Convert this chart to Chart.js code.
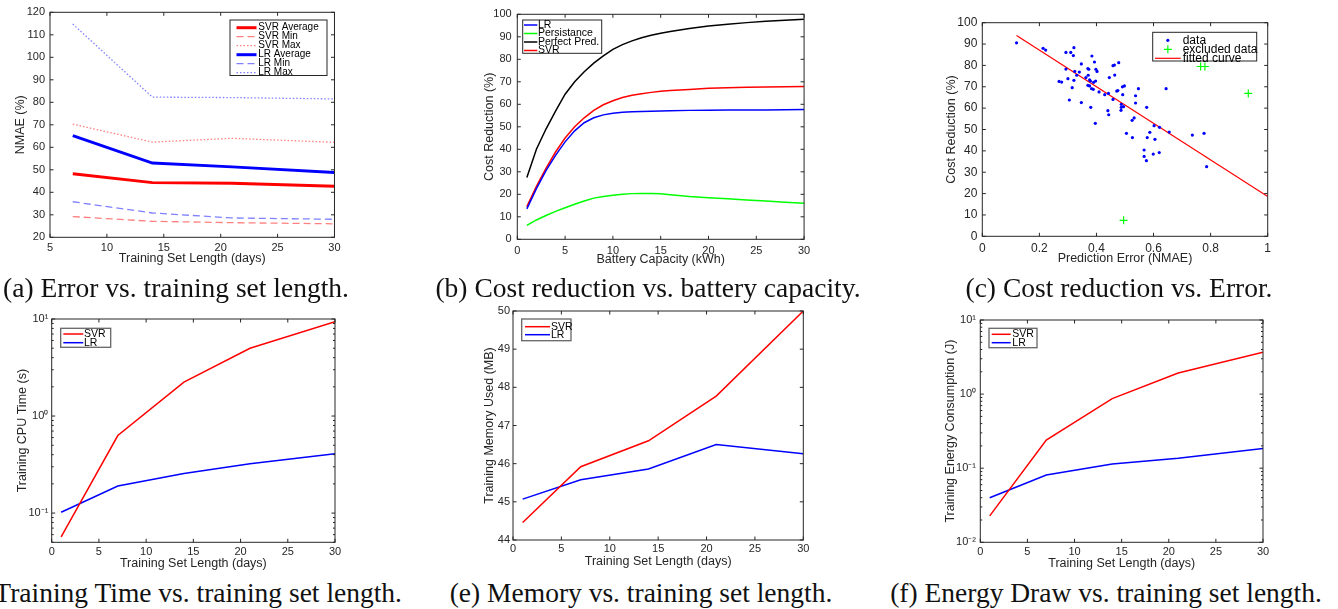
<!DOCTYPE html>
<html>
<head>
<meta charset="utf-8">
<script src="https://cdn.jsdelivr.net/npm/chart.js@4.4.1/dist/chart.umd.min.js"></script>
<style>
  body { margin: 0; background: #fff; width: 1338px; height: 609px; overflow: hidden; position: relative; }
  canvas { position: absolute; }
  .cap { position: absolute; width: 600px; text-align: center; white-space: nowrap;
         font-family: "Liberation Serif", "Times New Roman", serif; font-size: 27.5px; line-height: 30px; color: #111; }
</style>
</head>
<body>
<canvas id="ca" width="345" height="272" style="left:0px;top:0px"></canvas>
<canvas id="cb" width="345" height="272" style="left:470px;top:0px"></canvas>
<canvas id="cc" width="350" height="272" style="left:930px;top:0px"></canvas>
<canvas id="cd" width="345" height="272" style="left:0px;top:300px"></canvas>
<canvas id="ce" width="375" height="272" style="left:440px;top:300px"></canvas>
<canvas id="cf" width="350" height="272" style="left:930px;top:300px"></canvas>

<div class="cap" style="left:-124px;top:273px">(a) Error vs. training set length.</div>
<div class="cap" style="left:348px;top:273px">(b) Cost reduction vs. battery capacity.</div>
<div class="cap" style="left:819px;top:273px">(c) Cost reduction vs. Error.</div>
<div class="cap" style="left:-198px;top:578px;text-align:right">(d) Training Time vs. training set length.</div>
<div class="cap" style="left:341px;top:578px">(e) Memory vs. training set length.</div>
<div class="cap" style="left:806px;top:578px">(f) Energy Draw vs. training set length.</div>

<script>
// (a) error vs training set length
const daysA = [7, 14, 21, 30];
const svrAvgA = [48.2, 44.3, 44.0, 42.7];
const svrMinA = [29.2, 27.1, 26.5, 26.0];
const svrMaxA = [70.3, 62.3, 64.0, 62.2];
const lrAvgA = [65.2, 53.0, 51.3, 48.8];
const lrMinA = [35.8, 30.8, 28.6, 28.0];
const lrMaxA = [114.8, 82.3, 82.1, 81.5];

// (b) cost reduction vs battery capacity
const battery = [1, 2, 3, 4, 5, 6, 7, 8, 9, 10, 11, 12, 13, 14, 15, 16, 18, 20, 22, 24, 26, 28, 30];
const lrCost = [13.5, 22.5, 30.5, 37.3, 43.3, 48.2, 51.8, 54.0, 55.3, 56.0, 56.5, 56.7, 56.8, 56.9, 57.0, 57.1, 57.3, 57.4, 57.5, 57.5, 57.5, 57.6, 57.7];
const persCost = [6.2, 8.6, 10.6, 12.4, 14.0, 15.6, 17.0, 18.3, 19.0, 19.6, 20.0, 20.3, 20.4, 20.4, 20.2, 19.8, 19.0, 18.5, 18.0, 17.5, 17.0, 16.5, 16.0];
const perfCost = [27.5, 40.0, 49.0, 57.0, 64.5, 70.0, 74.5, 78.3, 81.5, 84.4, 86.5, 88.2, 89.6, 90.7, 91.6, 92.4, 93.7, 94.8, 95.6, 96.3, 96.9, 97.4, 97.8];
const svrCost = [14.5, 23.5, 31.5, 38.8, 45.0, 50.0, 54.0, 57.3, 59.8, 61.6, 63.0, 64.0, 64.7, 65.3, 65.8, 66.1, 66.6, 67.1, 67.4, 67.6, 67.7, 67.8, 67.9];

// (c) cost reduction vs prediction error
const errX = [0.120, 0.213, 0.222, 0.293, 0.310, 0.321, 0.319, 0.347, 0.293, 0.324, 0.340, 0.331, 0.370, 0.373, 0.384, 0.393,
  0.398, 0.402, 0.300, 0.269, 0.278, 0.321, 0.315, 0.305, 0.347, 0.363, 0.371, 0.376, 0.379, 0.390, 0.397, 0.370, 0.376,
  0.383, 0.389, 0.380, 0.396, 0.409, 0.429, 0.442, 0.445, 0.458, 0.463, 0.478, 0.464, 0.471, 0.475, 0.458, 0.440, 0.443,
  0.492, 0.491, 0.498, 0.487, 0.487, 0.495, 0.486, 0.505, 0.525, 0.532, 0.537, 0.547, 0.537, 0.526, 0.576, 0.567, 0.567,
  0.575, 0.578, 0.587, 0.602, 0.605, 0.599, 0.620, 0.621, 0.655, 0.644, 0.736, 0.777, 0.786];
const costY = [90.6, 88.0, 87.2, 86.1, 86.1, 88.3, 84.6, 80.7, 78.3, 77.2, 76.9, 75.4, 78.5, 78.2, 84.4, 81.6,
  78.2, 77.2, 73.8, 72.5, 72.2, 73.0, 69.6, 63.8, 62.6, 74.3, 75.4, 73.2, 72.7, 72.1, 72.7, 70.7, 70.4,
  69.1, 68.8, 60.4, 52.9, 67.6, 66.3, 66.9, 74.3, 79.9, 80.2, 81.3, 75.5, 68.0, 68.2, 64.1, 58.8, 56.9,
  66.3, 70.0, 70.4, 61.8, 60.4, 60.7, 59.0, 48.2, 54.3, 55.4, 65.8, 69.1, 62.4, 46.2, 60.4, 40.4, 37.4,
  35.4, 46.2, 48.7, 51.8, 45.4, 38.5, 39.2, 51.0, 48.8, 69.1, 47.4, 48.2, 32.6];
const exclX = [0.495, 0.765, 0.780, 0.932];
const exclY = [7.5, 79.5, 79.5, 66.9];
const fitX = [0.12, 1.0];
const fitY = [94.0, 18.6];

// (d)-(f) training cost vs training set length
const days = [1, 7, 14, 21, 30];
const svrTime = [0.057, 0.63, 2.24, 5.0, 9.4];
const lrTime = [0.102, 0.19, 0.256, 0.323, 0.41];
const svrMem = [44.46, 45.92, 46.6, 47.77, 50.0];
const lrMem = [45.07, 45.58, 45.86, 46.5, 46.26];
const svrEnergy = [0.0227, 0.24, 0.87, 1.93, 3.66];
const lrEnergy = [0.040, 0.081, 0.114, 0.136, 0.184];

const INK = '#262626';
const FONT = '"Liberation Sans", Arial, Helvetica, sans-serif';
Chart.defaults.font.family = FONT;
Chart.defaults.color = INK;
Chart.defaults.animation = false;

function pts(xs, ys) { return xs.map((x, i) => ({ x: x, y: ys[i] })); }

const SUP = { '-': '\u207B', '0': '\u2070', '1': '\u00B9', '2': '\u00B2', '3': '\u00B3' };
function powLabel(v) {
  const e = Math.round(Math.log10(v));
  return '10' + String(e).split('').map(c => SUP[c]).join('');
}

// box, inward ticks and an in-axes legend, the way MATLAB draws them
const matlabAxes = {
  id: 'matlabAxes',
  afterDraw(chart, args, o) {
    const { ctx, chartArea: a } = chart;
    const x = chart.scales.x, y = chart.scales.y;
    ctx.save();
    ctx.strokeStyle = INK;
    ctx.lineWidth = 1;
    const tl = 3.5;
    ctx.beginPath();
    x.ticks.forEach(t => {
      const p = x.getPixelForValue(t.value);
      ctx.moveTo(p, a.bottom); ctx.lineTo(p, a.bottom - tl);
      ctx.moveTo(p, a.top); ctx.lineTo(p, a.top + tl);
    });
    y.ticks.forEach(t => {
      const p = y.getPixelForValue(t.value);
      ctx.moveTo(a.left, p); ctx.lineTo(a.left + tl, p);
      ctx.moveTo(a.right, p); ctx.lineTo(a.right - tl, p);
    });
    if (y.type === 'logarithmic') {
      for (let k = Math.floor(Math.log10(y.min)); k < Math.log10(y.max); k++) {
        for (let m = 2; m < 10; m++) {
          const v = m * Math.pow(10, k);
          if (v < y.min || v > y.max) continue;
          const p = y.getPixelForValue(v);
          ctx.moveTo(a.left, p); ctx.lineTo(a.left + 2, p);
          ctx.moveTo(a.right, p); ctx.lineTo(a.right - 2, p);
        }
      }
    }
    ctx.stroke();
    ctx.strokeRect(a.left, a.top, a.right - a.left, a.bottom - a.top);

    const L = o.legend;
    if (L) {
      ctx.fillStyle = '#fff';
      ctx.fillRect(L.x, L.y, L.w, L.h);
      ctx.lineWidth = L.bw || 1;
      ctx.strokeStyle = L.border || INK;
      ctx.strokeRect(L.x, L.y, L.w, L.h);
      ctx.font = L.size + 'px ' + FONT;
      ctx.textBaseline = 'middle';
      chart.data.datasets.forEach((ds, i) => {
        const cy = L.row0 + i * L.dy;
        ctx.strokeStyle = ds.borderColor;
        ctx.fillStyle = ds.backgroundColor || ds.borderColor;
        if (ds.showLine === false) {
          const mx = (L.l0 + L.l1) / 2;
          if (ds.pointStyle === 'cross') {
            const r = ds.pointRadius;
            ctx.lineWidth = ds.borderWidth || 1;
            ctx.setLineDash([]);
            ctx.beginPath();
            ctx.moveTo(mx - r, cy); ctx.lineTo(mx + r, cy);
            ctx.moveTo(mx, cy - r); ctx.lineTo(mx, cy + r);
            ctx.stroke();
          } else {
            ctx.beginPath();
            ctx.arc(mx, cy, ds.pointRadius, 0, Math.PI * 2);
            ctx.fill();
          }
        } else {
          ctx.lineWidth = ds.borderWidth || 1.5;
          ctx.setLineDash(ds.borderDash || []);
          ctx.beginPath();
          ctx.moveTo(L.l0, cy); ctx.lineTo(L.l1, cy);
          ctx.stroke();
          ctx.setLineDash([]);
        }
        ctx.fillStyle = '#000';
        ctx.fillText(ds.label, L.tx, cy);
      });
    }
    ctx.restore();
  }
};

// g: canvas box and plot box in page pixels; the chart area is pinned to the plot box
function makeChart(id, g, type, datasets, xs, ys, legend) {
  const tick = g.tick || 11, tsz = g.tsz || 12.5;
  const lhT = tick * 1.2, lhS = tsz * 1.2;
  const [pl, pt, pr, pb] = g.plot;
  const lg = Object.assign({}, legend, {
    x: legend.x - g.left, y: legend.y - g.top,
    l0: legend.l0 - g.left, l1: legend.l1 - g.left, tx: legend.tx - g.left, row0: legend.row0 - g.top
  });
  return new Chart(document.getElementById(id), {
    type: type,
    data: { datasets: datasets },
    options: {
      responsive: false,
      events: [],
      layout: { padding: { top: pt - g.top, right: g.left + g.w - pr, left: 0, bottom: 0 } },
      elements: { point: { radius: 0 }, line: { tension: 0, fill: false, borderWidth: 1.5 } },
      plugins: { legend: { display: false }, tooltip: { enabled: false }, matlabAxes: { legend: lg } },
      scales: {
        x: Object.assign({
          type: 'linear', position: 'bottom',
          grid: { display: false, drawTicks: false }, border: { display: false },
          ticks: Object.assign({ font: { size: tick }, color: INK, padding: g.xOff - lhT / 2, maxRotation: 0, autoSkip: false }, xs.ticks),
          title: { display: true, text: xs.title, font: { size: tsz }, color: INK,
                   padding: { top: 0, bottom: g.top + g.h - g.xTitleY - lhS / 2 } },
          afterFit(s) { s.height = g.top + g.h - pb; }
        }, xs.range),
        y: Object.assign({
          type: 'linear', position: 'left',
          grid: { display: false, drawTicks: false }, border: { display: false },
          ticks: Object.assign({ font: { size: tick }, color: INK, padding: g.yOff, autoSkip: false }, ys.ticks),
          title: { display: true, text: ys.title, font: { size: tsz }, color: INK,
                   padding: { top: g.yTitleX - g.left - lhS / 2, bottom: 0 } },
          afterFit(s) { s.width = pl - g.left; }
        }, ys.range)
      }
    },
    plugins: [matlabAxes]
  });
}

function ln(label, xs, ys, color, width, dash) {
  return { label: label, data: pts(xs, ys), borderColor: color, backgroundColor: color,
           borderWidth: width || 1.5, borderDash: dash || [] };
}

const daysAxis = { title: 'Training Set Length (days)', range: { min: 0, max: 30 }, ticks: { stepSize: 5 } };
const logTicks = { callback: v => powLabel(v) };
const decades = s => { s.ticks = s.ticks.filter(t => Math.abs(Math.log10(t.value) - Math.round(Math.log10(t.value))) < 1e-9); };

// (a)
makeChart('ca', { left: 0, top: 0, w: 345, h: 272, plot: [50, 12.3, 335, 237.3], yTitleX: 20.7, xTitleY: 258.3, xOff: 11, yOff: 5 },
  'line', [
    ln('SVR Average', daysA, svrAvgA, '#ff0000', 3),
    ln('SVR Min', daysA, svrMinA, '#ff8080', 1.3, [7, 4]),
    ln('SVR Max', daysA, svrMaxA, '#ff8080', 1.3, [1.5, 2]),
    ln('LR Average', daysA, lrAvgA, '#0000ff', 3),
    ln('LR Min', daysA, lrMinA, '#8080ff', 1.3, [7, 4]),
    ln('LR Max', daysA, lrMaxA, '#8080ff', 1.3, [1.5, 2])
  ],
  { title: 'Training Set Length (days)', range: { min: 5, max: 30 }, ticks: { stepSize: 5 } },
  { title: 'NMAE (%)', range: { min: 20, max: 120 }, ticks: { stepSize: 10 } },
  { x: 230, y: 20, w: 97, h: 55.5, l0: 236.5, l1: 256.5, tx: 258.3, row0: 27.7, dy: 9, size: 10 });

// (b)
makeChart('cb', { left: 470, top: 0, w: 345, h: 272, plot: [517.3, 14.3, 804.3, 239.3], yTitleX: 489.3, xTitleY: 260, xOff: 11.4, yOff: 5.6 },
  'line', [
    ln('LR', battery, lrCost, '#0000ff'),
    ln('Persistance', battery, persCost, '#00ff00'),
    ln('Perfect Pred.', battery, perfCost, '#000000'),
    ln('SVR', battery, svrCost, '#ff0000')
  ],
  { title: 'Battery Capacity (kWh)', range: { min: 0, max: 30 }, ticks: { stepSize: 5 } },
  { title: 'Cost Reduction (%)', range: { min: 0, max: 100 }, ticks: { stepSize: 10 } },
  { x: 522.7, y: 20, w: 79, h: 33.3, l0: 524, l1: 537.3, tx: 538, row0: 25, dy: 8.5, size: 10.5 });

// (c)
makeChart('cc', { left: 930, top: 0, w: 350, h: 272, plot: [982.3, 22.7, 1267.7, 236.3], yTitleX: 951.7, xTitleY: 258.3, xOff: 12, yOff: 5, tick: 12 },
  'scatter', [
    { label: 'data', data: pts(errX, costY), showLine: false, pointStyle: 'circle', pointRadius: 1.6,
      borderWidth: 0, borderColor: '#0000ff', backgroundColor: '#0000ff' },
    { label: 'excluded data', data: pts(exclX, exclY), showLine: false, pointStyle: 'cross', pointRadius: 4,
      borderWidth: 1.2, borderColor: '#00ff00', backgroundColor: '#00ff00' },
    { label: 'fitted curve', data: pts(fitX, fitY), showLine: true, pointRadius: 0,
      borderWidth: 1.2, borderColor: '#ff0000', backgroundColor: '#ff0000' }
  ],
  { title: 'Prediction Error (NMAE)', range: { min: 0, max: 1 }, ticks: { stepSize: 0.2, callback: v => String(+v.toFixed(1)) } },
  { title: 'Cost Reduction (%)', range: { min: 0, max: 100 }, ticks: { stepSize: 10 } },
  { x: 1152.7, y: 32.3, w: 104, h: 28.7, l0: 1155, l1: 1180.7, tx: 1182.7, row0: 40.3, dy: 9, size: 12 });

// (d)
makeChart('cd', { left: 0, top: 300, w: 345, h: 272, plot: [51.7, 319, 335, 542.3], yTitleX: 22.7, xTitleY: 564, xOff: 10, yOff: 3.4 },
  'line', [ln('SVR', days, svrTime, '#ff0000'), ln('LR', days, lrTime, '#0000ff')],
  daysAxis,
  { title: 'Training CPU Time (s)', range: { type: 'logarithmic', min: 0.05, max: 10, afterBuildTicks: decades }, ticks: logTicks },
  { x: 60.7, y: 328.3, w: 50, h: 19, l0: 63.3, l1: 83.3, tx: 84, row0: 334, dy: 8.7, size: 10.5, border: '#666', bw: 1.3 });

// (e)
makeChart('ce', { left: 440, top: 300, w: 375, h: 272, plot: [513, 311, 803.3, 540], yTitleX: 490, xTitleY: 561.7, xOff: 9.3, yOff: 3 },
  'line', [ln('SVR', days, svrMem, '#ff0000'), ln('LR', days, lrMem, '#0000ff')],
  daysAxis,
  { title: 'Training Memory Used (MB)', range: { min: 44, max: 50 }, ticks: { stepSize: 1 } },
  { x: 521.7, y: 319, w: 49.3, h: 21.7, l0: 525, l1: 550, tx: 551, row0: 326.7, dy: 8, size: 10.5, border: '#666', bw: 1.3 });

// (f)
makeChart('cf', { left: 930, top: 300, w: 350, h: 272, plot: [980.3, 320, 1263, 542.3], yTitleX: 951, xTitleY: 564, xOff: 10, yOff: 4.3 },
  'line', [ln('SVR', days, svrEnergy, '#ff0000'), ln('LR', days, lrEnergy, '#0000ff')],
  daysAxis,
  { title: 'Training Energy Consumption (J)', range: { type: 'logarithmic', min: 0.01, max: 10, afterBuildTicks: decades }, ticks: logTicks },
  { x: 989, y: 328.3, w: 48, h: 19.4, l0: 991.7, l1: 1010.7, tx: 1012.3, row0: 334.3, dy: 8.4, size: 10.5, border: '#666', bw: 1.3 });
</script>
</body>
</html>
